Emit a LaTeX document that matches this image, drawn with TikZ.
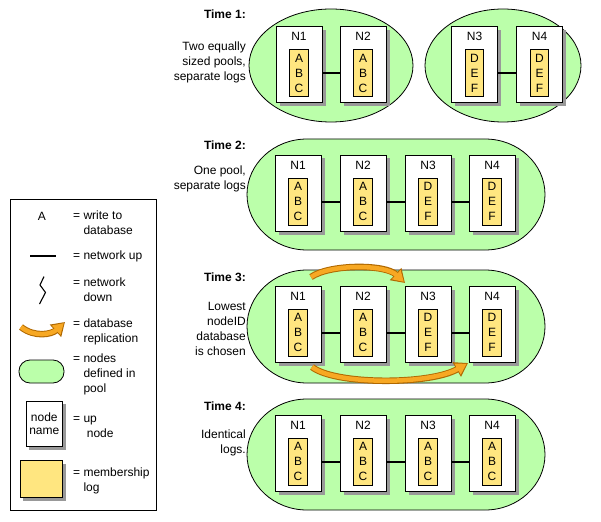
\documentclass[tikz,border=0pt]{standalone}
\usepackage{fontspec}
\setmainfont{Liberation Sans}
\usetikzlibrary{shapes.geometric,shadows,arrows.meta}
\definecolor{poolgreen}{HTML}{BBFFAA}
\definecolor{logyellow}{HTML}{FFE680}
\definecolor{reporange}{HTML}{F7A823}
\definecolor{repdark}{HTML}{B06800}
\definecolor{shadowgray}{HTML}{999999}
\newcommand\mkbox[5]{% name, x, y, label, letters
  \node[upbox] (#1) at (#2,#3) {};
  \node (#1t) at (#2,#3-28) {#4};
  \node[logbox] (#1l) at (#2,#3+8.5) {#5};
}
\newcommand\stadium[3]{% name, top, bottom
  \draw[pool] (307,#2) coordinate (#1) arc[start angle=270, end angle=90, x radius=60, y radius={(#3-#2)/2}] -- (485,#3) arc[start angle=90, end angle=-90, x radius=60, y radius={(#3-#2)/2}] -- cycle;
}
\newcommand\netlink[2]{\draw[net] (#1l -| #1.east) -- (#1l -| #2.west);}
\begin{document}
\begin{tikzpicture}[x=1pt,y=-1pt,
  every node/.style={font=\fontsize{12}{15}\selectfont, inner sep=0pt},
  pool/.style={draw=black, line width=0.8pt, fill=poolgreen},
  shadowed/.style={drop shadow={shadow xshift=3.5pt, shadow yshift=-3.5pt, fill=shadowgray, opacity=1}},
  upbox/.style={draw=black, line width=0.8pt, fill=white, minimum width=46pt, minimum height=76pt, shadowed},
  logbox/.style={draw=black, line width=0.6pt, fill=logyellow, minimum width=18.5pt, minimum height=47pt, align=center},
  net/.style={line width=2pt},
  desc/.style={anchor=east, align=right},
  timelbl/.style={anchor=east, font=\bfseries\fontsize{12}{15}\selectfont},
  legtxt/.style={anchor=west, align=left},
  repout/.style={line width=6.5pt, color=repdark, -{Triangle[length=13pt,width=16pt]}},
  repin/.style={line width=4.5pt, color=reporange, shorten >=1.6pt, -{Triangle[length=10.5pt,width=12pt]}}
]
\useasboundingbox (0,0) rectangle (601,521);

% ---------- Time 1 ----------
\node[pool, ellipse, minimum width=164pt, minimum height=113pt] (t1poolA) at (331,65.5) {};
\node[pool, ellipse, minimum width=156pt, minimum height=113pt] (t1poolB) at (503,65.5) {};
\node[timelbl] (t1lbl) at (246,14) {Time 1:};
\node[desc] (t1desc) at (246,62) {Two equally\\sized pools,\\separate logs};
\mkbox{t1a}{299}{64.5}{N1}{A\\B\\C}
\mkbox{t1b}{363}{64.5}{N2}{A\\B\\C}
\mkbox{t1c}{474.5}{64.5}{N3}{D\\E\\F}
\mkbox{t1d}{539.5}{64.5}{N4}{D\\E\\F}
\netlink{t1a}{t1b}
\netlink{t1c}{t1d}

% ---------- Time 2 ----------
\stadium{t2pool}{139}{250}
\node[timelbl] (t2lbl) at (246,145.5) {Time 2:};
\node[desc] (t2desc) at (246,179) {One pool,\\separate logs};
\mkbox{t2a}{298}{193}{N1}{A\\B\\C}
\mkbox{t2b}{363}{193}{N2}{A\\B\\C}
\mkbox{t2c}{428}{193}{N3}{D\\E\\F}
\mkbox{t2d}{492}{193}{N4}{D\\E\\F}
\netlink{t2a}{t2b}
\netlink{t2b}{t2c}
\netlink{t2c}{t2d}

% ---------- Time 3 ----------
\stadium{t3pool}{270}{383}
\node[timelbl] (t3lbl) at (246,277.5) {Time 3:};
\node[desc] (t3desc) at (246,329) {Lowest\\nodeID\\database\\is chosen};
\mkbox{t3a}{298}{324}{N1}{A\\B\\C}
\mkbox{t3b}{363}{324}{N2}{A\\B\\C}
\mkbox{t3c}{428}{324}{N3}{D\\E\\F}
\mkbox{t3d}{492}{324}{N4}{D\\E\\F}
\netlink{t3a}{t3b}
\netlink{t3b}{t3c}
\netlink{t3c}{t3d}
\coordinate (r1s) at (311,277);
\coordinate (r1e) at (405,283);
\coordinate (r2s) at (312,367);
\coordinate (r2e) at (468,363);
\draw[repout] (r1s) .. controls (330,264) and (385,264) .. (r1e);
\draw[repin]  (r1s) .. controls (330,264) and (385,264) .. (r1e);
\draw[repout] (r2s) .. controls (335,385) and (430,385) .. (r2e);
\draw[repin]  (r2s) .. controls (335,385) and (430,385) .. (r2e);

% ---------- Time 4 ----------
\stadium{t4pool}{399}{510}
\node[timelbl] (t4lbl) at (246,406) {Time 4:};
\node[desc] (t4desc) at (246,443) {Identical\\logs.};
\mkbox{t4a}{298}{453}{N1}{A\\B\\C}
\mkbox{t4b}{363}{453}{N2}{A\\B\\C}
\mkbox{t4c}{428}{453}{N3}{A\\B\\C}
\mkbox{t4d}{492}{453}{N4}{A\\B\\C}
\netlink{t4a}{t4b}
\netlink{t4b}{t4c}
\netlink{t4c}{t4d}

% ---------- Legend ----------
\node[draw=black, line width=0.8pt, minimum width=146.5pt, minimum height=311.5pt] (legend) at (83.25,354.75) {};
\node (lgA) at (42,216) {A};
\node[legtxt] (lgAt) at (73,223) {= write to\\\hphantom{=}\ database};
\coordinate (lgl1) at (30,256);
\coordinate (lgl2) at (56,256);
\draw[net] (lgl1) -- (lgl2);
\node[legtxt] (lgnet) at (73,256) {= network up};
\coordinate (zz1) at (44,276.5);
\coordinate (zz2) at (40,285);
\coordinate (zz3) at (45.5,292.5);
\coordinate (zz4) at (39.5,304);
\draw[line width=1.1pt] (zz1) -- (zz2) -- (zz3) -- (zz4);
\node[legtxt] (lgdown) at (73,289.5) {= network\\\hphantom{=}\ down};
\coordinate (lrs) at (21,327);
\coordinate (lre) at (65,322);
\draw[repout] (lrs) .. controls (35,338) and (52,334) .. (lre);
\draw[repin]  (lrs) .. controls (35,338) and (52,334) .. (lre);
\node[legtxt] (lgrep) at (73,331.5) {= database\\\hphantom{=}\ replication};
\node[pool, rounded corners=11pt, minimum width=45pt, minimum height=23pt] (lgpool) at (41.5,371.5) {};
\node[legtxt] (lgpoolt) at (73,374) {= nodes\\\hphantom{=}\ defined in\\\hphantom{=}\ pool};
\node[draw=black, line width=0.8pt, fill=white, shadowed, minimum width=36.7pt, minimum height=45.7pt, align=center, font=\fontsize{12}{13.5}\selectfont] (lgnode) at (44.3,423.8) {node\\name};
\node[legtxt] (lgnodet) at (73,427) {= up\\\hphantom{=}\ \ node};
\node[draw=black, line width=0.8pt, fill=logyellow, shadowed, minimum width=42.7pt, minimum height=37pt] (lglog) at (41.3,478.5) {};
\node[legtxt] (lglogt) at (73,481) {= membership\\\hphantom{=}\ log};
\end{tikzpicture}
\end{document}
